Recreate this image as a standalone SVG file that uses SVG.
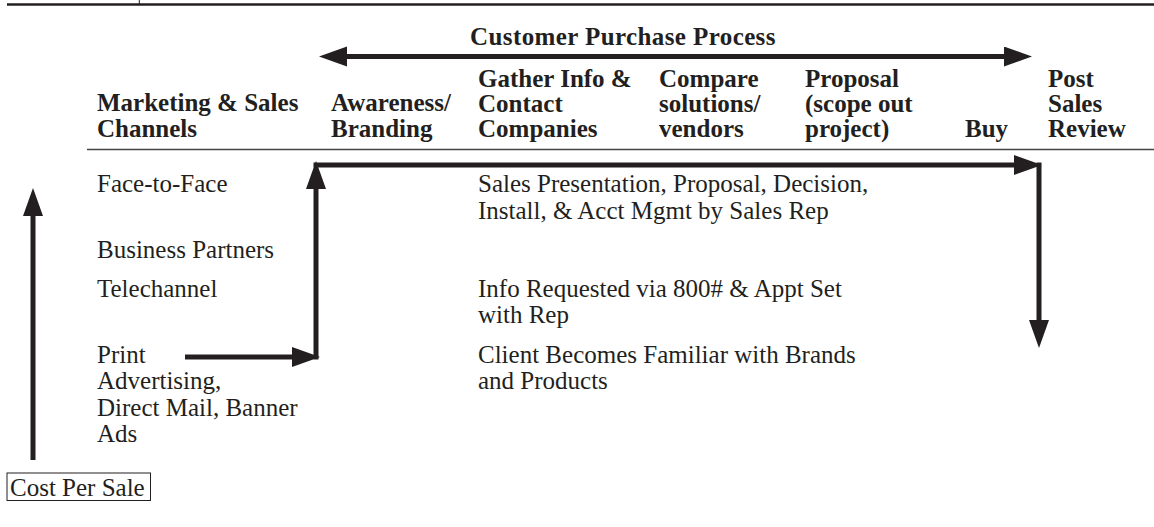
<svg xmlns="http://www.w3.org/2000/svg" width="1154" height="527" viewBox="0 0 1154 527">
<style>
.h{font-family:"Liberation Serif","Times New Roman",serif;font-weight:bold;font-size:25px;fill:#231f20}
.b{font-family:"Liberation Serif","Times New Roman",serif;font-size:25px;fill:#231f20}
.c{fill:none;stroke:#231f20;stroke-width:5}
</style>
<defs>
<marker id="ah" markerUnits="userSpaceOnUse" markerWidth="29" markerHeight="21" refX="0" refY="10" orient="auto-start-reverse" viewBox="0 0 29 21">
<path d="M0,0 L28,10 L0,20 Z" fill="#231f20"/>
</marker>
</defs>
<rect width="1154" height="527" fill="#fff"/>
<g id="frame">
<line x1="7" y1="4.5" x2="1154" y2="4.5" stroke="#231f20" stroke-width="2.5"/>
<line x1="139.3" y1="0" x2="139.3" y2="4" stroke="#231f20" stroke-width="1"/>
<line x1="87" y1="149.5" x2="1154" y2="149.5" stroke="#444" stroke-width="1.5"/>
</g>
<g id="title"><text class="h" x="623" y="45" text-anchor="middle" letter-spacing="0.4">Customer Purchase Process</text></g>
<g id="hdr-channels"><text class="h" x="97" y="111">Marketing &amp; Sales</text><text class="h" x="97" y="137">Channels</text></g>
<g id="hdr-awareness"><text class="h" x="331" y="111">Awareness/</text><text class="h" x="331" y="137">Branding</text></g>
<g id="hdr-gather"><text class="h" x="478" y="87">Gather Info &amp;</text><text class="h" x="478" y="112">Contact</text><text class="h" x="478" y="137">Companies</text></g>
<g id="hdr-compare"><text class="h" x="659" y="87">Compare</text><text class="h" x="659" y="112">solutions/</text><text class="h" x="659" y="137">vendors</text></g>
<g id="hdr-proposal"><text class="h" x="805" y="87">Proposal</text><text class="h" x="805" y="112">(scope out</text><text class="h" x="805" y="137">project)</text></g>
<g id="hdr-buy"><text class="h" x="965" y="137">Buy</text></g>
<g id="hdr-post"><text class="h" x="1048" y="87">Post</text><text class="h" x="1048" y="112">Sales</text><text class="h" x="1048" y="137">Review</text></g>
<g id="ch-face"><text class="b" x="97" y="192">Face-to-Face</text></g>
<g id="ch-partners"><text class="b" x="97" y="258">Business Partners</text></g>
<g id="ch-tele"><text class="b" x="97" y="296.5">Telechannel</text></g>
<g id="ch-print"><text class="b" x="97" y="362.5">Print</text><text class="b" x="97" y="389">Advertising,</text><text class="b" x="97" y="415.5">Direct Mail, Banner</text><text class="b" x="97" y="442">Ads</text></g>
<g id="d-face"><text class="b" x="478" y="192">Sales Presentation, Proposal, Decision,</text><text class="b" x="478" y="218.5">Install, &amp; Acct Mgmt by Sales Rep</text></g>
<g id="d-tele"><text class="b" x="478" y="296.5">Info Requested via 800# &amp; Appt Set</text><text class="b" x="478" y="323">with Rep</text></g>
<g id="d-print"><text class="b" x="478" y="362.5">Client Becomes Familiar with Brands</text><text class="b" x="478" y="389">and Products</text></g>
<g id="cost"><rect x="7" y="473" width="143.5" height="27.5" fill="none" stroke="#231f20" stroke-width="1"/><text class="b" x="10" y="495.5">Cost Per Sale</text></g>
<g id="connectors">
<path class="c" d="M347,56.5 H1004" marker-start="url(#ah)" marker-end="url(#ah)"/>
<path class="c" d="M33,460 V216" marker-end="url(#ah)"/>
<path class="c" d="M185,357 H292" marker-end="url(#ah)"/>
<path class="c" d="M316,359.5 V189" marker-end="url(#ah)"/>
<path class="c" d="M313.5,165 H1014" marker-end="url(#ah)"/>
<path class="c" d="M1039,162.5 V320" marker-end="url(#ah)"/>
</g>
</svg>
